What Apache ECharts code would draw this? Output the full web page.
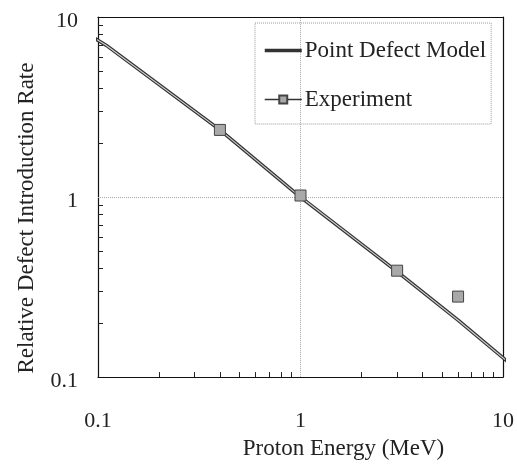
<!DOCTYPE html>
<html>
<head>
<meta charset="utf-8">
<script src="https://cdn.jsdelivr.net/npm/echarts@6/dist/echarts.min.js"></script>
<style>
html,body{margin:0;padding:0;background:#fff;}
#chart{width:517px;height:465px;}
</style>
</head>
<body>
<div id="chart"></div>
<script>
// Data
var modelX = [0.093, 0.11, 0.4, 1, 3, 6, 10.8];
var modelY = [7.8, 6.95, 2.36, 1.0, 0.385, 0.207, 0.119];
var expX = [0.4, 1, 3, 6];
var expY = [2.36, 1.02, 0.39, 0.28];
var majorTicks = [0.1, 1, 10];
var minorTicks = [0.2,0.3,0.4,0.5,0.6,0.7,0.8,0.9,2,3,4,5,6,7,8,9];
var gridAt = [1];
var xTitle = 'Proton Energy (MeV)';
var yTitle = 'Relative Defect Introduction Rate';
var modelName = 'Point Defect Model';
var expName = 'Experiment';

function pairs(xs, ys){ return xs.map(function(x,i){ return [x, ys[i]]; }); }

var FONT = '"Liberation Serif", "DejaVu Serif", serif';
var chart = echarts.init(document.getElementById('chart'), null, {renderer:'canvas'});

var baseAxis = {
  type: 'log', logBase: 10, min: 0.1, max: 10,
  axisLine: {show: true, onZero: false, lineStyle: {color: '#111', width: 1.2}},
  axisTick: {show: true, inside: true, length: 5, customValues: minorTicks, lineStyle: {color: '#222', width: 1}},
  minorTick: {show: false},
  splitLine: {show: false}
};

var gridLines = [];
gridAt.forEach(function(v){ gridLines.push({xAxis: v}); gridLines.push({yAxis: v}); });

var option = {
  animation: false,
  backgroundColor: '#fff',
  grid: {left: 98, right: 14, top: 17, bottom: 74, containLabel: false},
  legend: {
    orient: 'vertical', left: 255, top: 23,
    padding: [16, 5, 13, 8], itemGap: 26,
    itemWidth: 37, itemHeight: 10,
    borderColor: '#999', borderWidth: 1, borderType: 'dotted',
    textStyle: {fontFamily: FONT, fontSize: 23, color: '#222', padding: [0,0,0,-2]},
    data: [
      {name: modelName, itemStyle: {opacity: 0}, lineStyle: {width: 3.5, color: '#333'}},
      {name: expName, lineStyle: {opacity: 1, color: '#333', width: 1.5}}
    ]
  },
  xAxis: [
    Object.assign({}, baseAxis, {
      position: 'bottom',
      axisLabel: {customValues: majorTicks, margin: 33, fontFamily: FONT, fontSize: 22, color: '#222'},
      name: xTitle, nameLocation: 'middle', nameGap: 58,
      nameTextStyle: {fontFamily: FONT, fontSize: 23, color: '#222', padding: [0,0,0,86]}
    }),
    {
      type: 'log', logBase: 10, min: 0.1, max: 10, position: 'top',
      axisLine: {show: true, onZero: false, lineStyle: {color: '#111', width: 1.2}},
      axisTick: {show: false}, axisLabel: {show: false}, splitLine: {show: false}
    }
  ],
  yAxis: [
    Object.assign({}, baseAxis, {
      position: 'left',
      axisLabel: {customValues: majorTicks, margin: 20, fontFamily: FONT, fontSize: 22, color: '#222',
        formatter: function(v){ return '{a|' + v + '}'; },
        rich: {a: {fontFamily: FONT, fontSize: 22, color: '#222', padding: [9,0,0,0]}}},
      name: yTitle, nameLocation: 'middle', nameGap: 60, nameRotate: 90,
      nameTextStyle: {fontFamily: FONT, fontSize: 23, color: '#222', padding: [0,42,0,0]}
    }),
    {
      type: 'log', logBase: 10, min: 0.1, max: 10, position: 'right',
      axisLine: {show: true, onZero: false, lineStyle: {color: '#111', width: 1.2}},
      axisTick: {show: false}, axisLabel: {show: false}, splitLine: {show: false}
    }
  ],
  series: [
    {
      name: modelName, type: 'line', symbol: 'none', clip: false,
      data: pairs(modelX, modelY),
      lineStyle: {color: '#333', width: 3.5},
      itemStyle: {color: '#333'},
      markLine: {
        silent: true, symbol: 'none', label: {show: false},
        lineStyle: {color: '#aaa', type: 'dotted', width: 1},
        data: gridLines, z: 1
      },
      z: 2
    },
    {
      name: modelName + ' core', type: 'line', symbol: 'none', clip: false,
      data: pairs(modelX, modelY),
      lineStyle: {color: '#d0d0d0', width: 1.1},
      z: 3, silent: true
    },
    {
      name: expName, type: 'line', symbol: 'rect', symbolSize: 11,
      data: pairs(expX, expY),
      lineStyle: {opacity: 0},
      itemStyle: {color: '#a9a9a9', borderColor: '#444', borderWidth: 1, opacity: 1},
      z: 4
    }
  ]
};
chart.setOption(option);
</script>
</body>
</html>
